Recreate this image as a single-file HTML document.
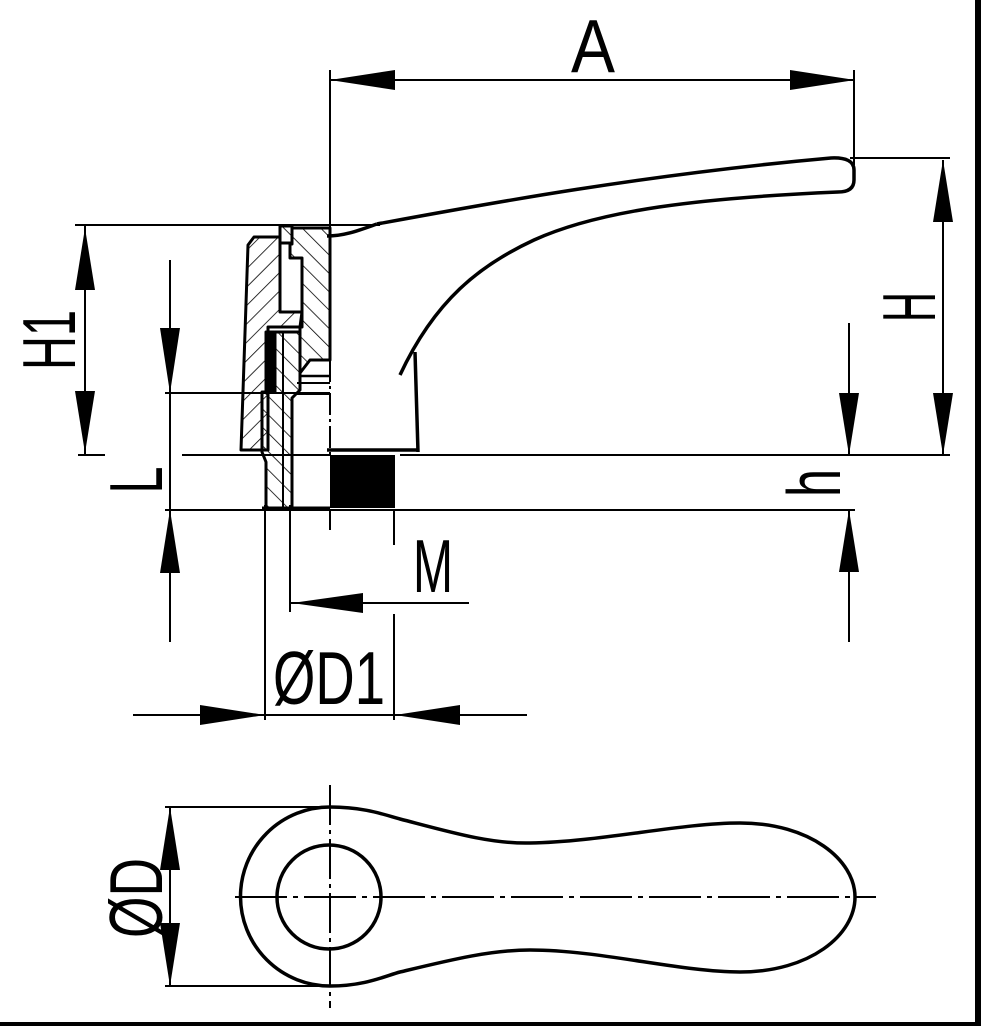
<!DOCTYPE html>
<html><head><meta charset="utf-8"><style>
html,body{margin:0;padding:0;background:#fff;}
svg{display:block;}
text{font-family:"Liberation Sans",sans-serif;fill:#000;}
</style></head><body>
<svg width="981" height="1026" viewBox="0 0 981 1026" xmlns="http://www.w3.org/2000/svg">
<defs>
<pattern id="hb" patternUnits="userSpaceOnUse" width="13" height="13" patternTransform="rotate(45)">
<line x1="0" y1="0" x2="0" y2="13" stroke="#000" stroke-width="1.6"/></pattern>
<pattern id="hf" patternUnits="userSpaceOnUse" width="13" height="13" patternTransform="rotate(-45)">
<line x1="0" y1="0" x2="0" y2="13" stroke="#000" stroke-width="1.6"/></pattern>
</defs>
<rect width="981" height="1026" fill="#fff"/>
<rect x="975" y="0" width="6" height="1026" fill="#000"/>
<rect x="0" y="1022" width="981" height="4" fill="#000"/>

<g stroke="#000" stroke-width="2" fill="none">
<!-- A dimension -->
<line x1="330" y1="80" x2="855" y2="80"/>
<line x1="330" y1="70" x2="330" y2="228"/>
<line x1="854" y1="70" x2="854" y2="165"/>
<!-- H -->
<line x1="850" y1="158" x2="950" y2="158"/>
<line x1="943" y1="160" x2="943" y2="455"/>
<line x1="400" y1="455" x2="950" y2="455"/>
<!-- h -->
<line x1="849" y1="323" x2="849" y2="455"/>
<line x1="849" y1="510" x2="849" y2="642"/>
<line x1="165" y1="510" x2="855" y2="510"/>
<line x1="182" y1="455" x2="330" y2="455"/>
<!-- H1 -->
<line x1="75" y1="225" x2="380" y2="225"/>
<line x1="85" y1="225" x2="85" y2="455"/>
<line x1="78" y1="455" x2="105" y2="455"/>
<!-- L -->
<line x1="170" y1="260" x2="170" y2="393"/>
<line x1="165" y1="393" x2="330" y2="393"/>
<line x1="170" y1="393" x2="170" y2="510"/>
<line x1="170" y1="510" x2="170" y2="642"/>
<!-- D1 / M -->
<line x1="265" y1="505" x2="265" y2="720"/>
<line x1="394" y1="510" x2="394" y2="545"/>
<line x1="394" y1="614" x2="394" y2="720"/>
<line x1="330" y1="510" x2="330" y2="530"/>
<line x1="290" y1="505" x2="290" y2="612"/>
<line x1="290" y1="603" x2="469" y2="603"/>
<line x1="133" y1="715" x2="527" y2="715"/>
<!-- centerline hub -->
<line x1="330" y1="228" x2="330" y2="455" stroke-dasharray="22,4,3,4"/>
<!-- bottom view dims -->
<line x1="165" y1="807" x2="330" y2="807"/>
<line x1="165" y1="986" x2="330" y2="986"/>
<line x1="170" y1="807" x2="170" y2="986"/>
<line x1="330" y1="785" x2="330" y2="1008" stroke-dasharray="40,5,4,5"/>
<line x1="235" y1="897" x2="876" y2="897" stroke-dasharray="52,6,5,6"/>
</g>

<!-- arrows -->
<g fill="#000">
<polygon points="330,80 395,70 395,90"/>
<polygon points="855,80 790,70 790,90"/>
<polygon points="943,160 933,222 953,222"/>
<polygon points="943,455 933,393 953,393"/>
<polygon points="849,455 839,393 859,393"/>
<polygon points="849,510 839,572 859,572"/>
<polygon points="85,228 75,290 95,290"/>
<polygon points="85,453 75,391 95,391"/>
<polygon points="170,393 160,328 180,328"/>
<polygon points="170,510 160,573 180,573"/>
<polygon points="292,603 363,593 363,613"/>
<polygon points="265,715 200,705 200,725"/>
<polygon points="395,715 460,705 460,725"/>
<polygon points="170,807 160,870 180,870"/>
<polygon points="170,986 160,923 180,923"/>
</g>

<!-- lever -->
<g stroke="#000" stroke-width="3.5" fill="none" stroke-linejoin="round">
<path d="M377,224 C480,205 640,175 831,158 Q854,157 854,170 L854,180 Q854,192 838,192 C700,198 600,210 534,240 C480,265 435,300 400,375"/>
<path d="M327,236 C345,236 360,230 377,224"/>
<line x1="415" y1="352" x2="418" y2="452"/>
<line x1="327" y1="450" x2="418" y2="450"/>
</g>
<rect x="330" y="455" width="65" height="53" fill="#000"/>

<!-- hub section -->
<g stroke="#000" stroke-width="3" stroke-linejoin="round">
<polygon fill="url(#hb)" points="248,245 254,237 280,237 280,312 302,312 302,327 268,327 268,450 241,450"/>
<polygon fill="url(#hf)" points="292,228 330,228 330,360 310,360 300,373 300,327 302,312 302,258 290,258 290,244 292,244"/>
<polygon fill="url(#hf)" points="275,332 300,332 300,390 292,398 292,508 266,508 266,462 262,452 262,392 275,392"/>
<rect x="280" y="226" width="12" height="17" fill="url(#hf)"/>
<rect x="266" y="332" width="8" height="60" fill="#000"/>
<line x1="283" y1="332" x2="283" y2="508" stroke-width="2"/>
<line x1="300" y1="376" x2="330" y2="376" stroke-width="2.5"/>
<line x1="297" y1="383" x2="330" y2="383" stroke-width="2"/>
<line x1="297" y1="394" x2="330" y2="394" stroke-width="2"/>
<line x1="241" y1="450" x2="262" y2="450"/>
<line x1="262" y1="508" x2="330" y2="508"/>
</g>

<!-- bottom view -->
<g stroke="#000" stroke-width="3.5" fill="none">
<path d="M330,807 C365,807 385,815 400,819 C450,832 490,844 530,843 C600,842 680,823 740,823 C810,823 855,860 855,897 C855,935 810,972 740,972 C680,972 600,950 530,950 C490,950 450,960 400,972 C385,976 365,986 330,986 A89.5,89.5 0 0 1 330,807 Z"/>
<circle cx="329" cy="897" r="52"/>
</g>

<!-- labels -->
<g font-size="75">
<text x="571" y="72" textLength="44" lengthAdjust="spacingAndGlyphs">A</text>
<text x="413" y="592" textLength="40" lengthAdjust="spacingAndGlyphs">M</text>
<text x="273" y="704" textLength="112" lengthAdjust="spacingAndGlyphs">ØD1</text>
<text transform="translate(908,307) rotate(-90)" text-anchor="middle" x="0" y="27" textLength="30" lengthAdjust="spacingAndGlyphs">H</text>
<text transform="translate(48,340) rotate(-90)" text-anchor="middle" x="0" y="27" textLength="60" lengthAdjust="spacingAndGlyphs">H1</text>
<text transform="translate(135,480) rotate(-90)" text-anchor="middle" x="0" y="27" textLength="27" lengthAdjust="spacingAndGlyphs">L</text>
<text transform="translate(813,483) rotate(-90)" text-anchor="middle" x="0" y="27" textLength="28" lengthAdjust="spacingAndGlyphs">h</text>
<text transform="translate(135,898) rotate(-90)" text-anchor="middle" x="0" y="27" textLength="80" lengthAdjust="spacingAndGlyphs">ØD</text>
</g>
</svg>
</body></html>
